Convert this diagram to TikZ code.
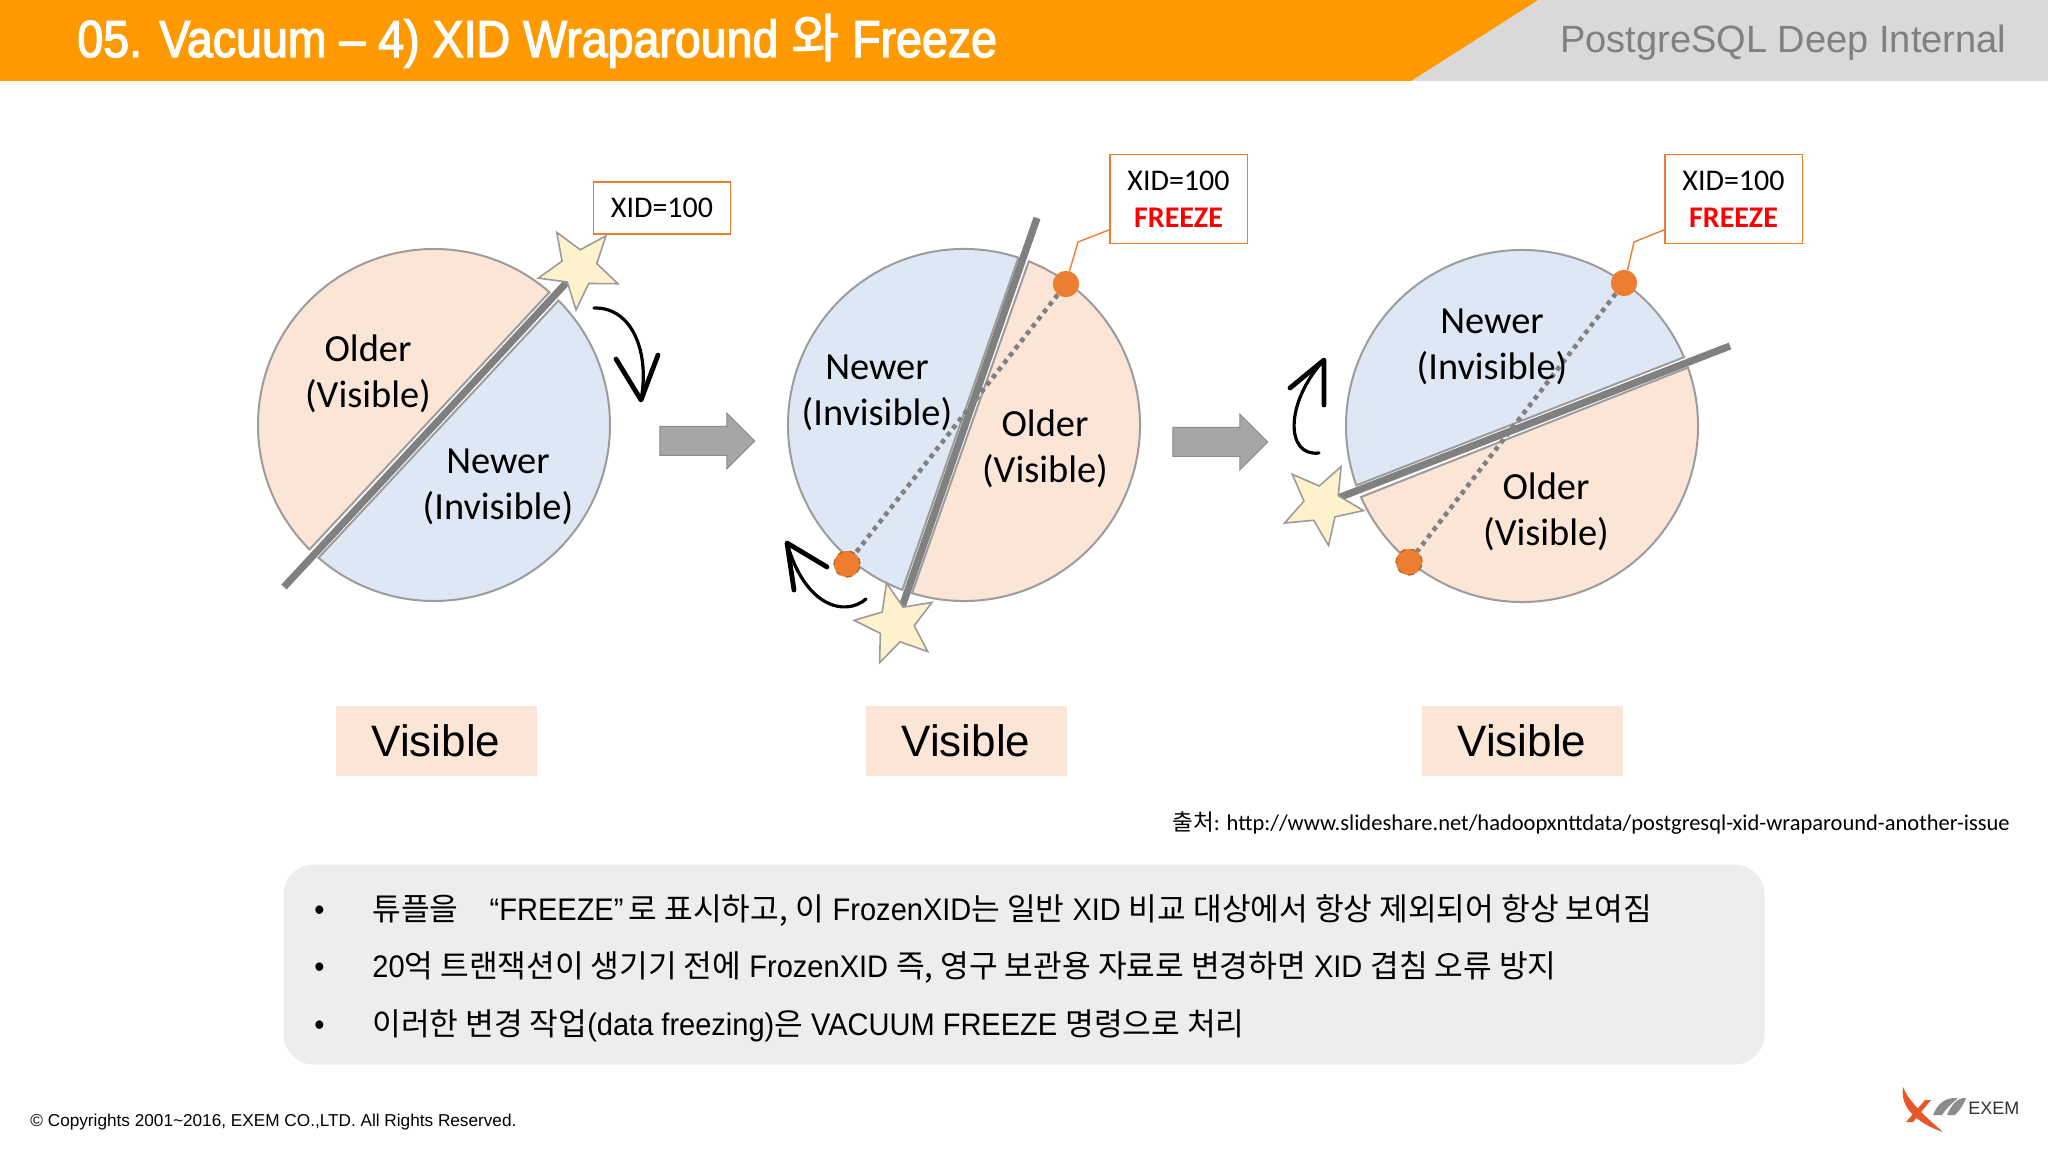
\documentclass[tikz,border=0pt]{standalone}
\usepackage{fontspec}
\usepackage{xcolor}
\usetikzlibrary{arrows.meta,shapes.geometric,shapes.arrows}
\setmainfont{Carlito}
\newfontfamily\hdfont{Liberation Sans}
\newfontfamily\slimfont[FakeStretch=0.93]{Liberation Sans}
\newfontfamily\titlefont[FakeStretch=0.895,FakeBold=2.5]{Liberation Sans}
\newfontfamily\krfont{Noto Sans CJK KR}
\newfontfamily\krtitlefont[FakeBold=2]{Noto Sans CJK KR}
\newcommand{\kr}[1]{{\krfont #1}}
\definecolor{oldercol}{HTML}{FBE5D6}
\definecolor{newercol}{HTML}{DEE8F5}
\definecolor{edgecol}{HTML}{9C9C9C}
\definecolor{barcol}{HTML}{808080}
\definecolor{boxcol}{HTML}{ED7D31}
\definecolor{starcol}{HTML}{FFF2CC}
\definecolor{titlecol}{HTML}{FF9900}
\definecolor{panelcol}{HTML}{EDECEF}
\definecolor{logocol}{HTML}{E8562A}

\begin{document}
\begin{tikzpicture}[
  x=0.5pt, y=0.5pt,
  halfdisc/.style={draw=edgecol, line width=1pt},
  divider/.style={draw=barcol, line width=3.6pt},
  dotline/.style={draw=barcol, line width=2.3pt, dash pattern=on 2.3pt off 2.3pt},
  markstar/.style={star, star points=5, star point ratio=2.3, draw=edgecol, fill=starcol, line width=0.8pt, inner sep=0pt, minimum size=42pt},
  markdot/.style={circle, fill=boxcol, inner sep=0pt, minimum size=13pt},
  xidbox/.style={draw=boxcol, fill=white, line width=0.7pt, inner sep=0pt, align=center, minimum width=68.7pt, font=\fontsize{15}{18.5}\selectfont},
  leader/.style={draw=boxcol, line width=0.7pt},
  zonelabel/.style={align=center, inner sep=0pt, font=\fontsize{19.2}{23}\selectfont},
  turn/.style={line width=1.6pt, line cap=round},
  turnhead/.style={line width=2.4pt, line cap=round, line join=round},
  stepblock/.style={single arrow, single arrow head extend=6.75pt, minimum height=47.5pt, inner xsep=0pt, inner ysep=7pt, fill=black!35, draw=black!45, line width=0.5pt},
  visiblebox/.style={fill=oldercol, minimum width=100.5pt, minimum height=35pt, inner sep=0pt, font=\hdfont\fontsize{22}{26}\selectfont},
  bulletline/.style={anchor=base west, inner sep=0pt, font=\slimfont\fontsize{15.6}{18}\selectfont}
]
\useasboundingbox (0,0) rectangle (2048,1152);
\fill[white] (0,0) rectangle (2048,1152);

\fill[black!15] (1400,1071) rectangle (2048,1152);
\fill[titlecol] (0,1071) -- (1411,1071) -- (1538,1152) -- (0,1152) -- cycle;
\node[anchor=base west, inner sep=0pt, text=white, font=\titlefont\fontsize{26}{28}\selectfont] (title) at (77,1095) {05. Vacuum – 4) XID Wraparound {\krtitlefont 와} Freeze};
\node[anchor=base west, inner sep=0pt, text=black!50, font=\hdfont\fontsize{19}{22}\selectfont] (subject) at (1560,1099) {PostgreSQL Deep Internal};

\coordinate (c1) at (434,727);
\coordinate (c2) at (964,727);
\coordinate (c3) at (1522,726);

\foreach \c/\a/\b/\col in {c1/49/225/oldercol, c1/229/405/newercol, c2/72/249.5/newercol, c2/252.8/428.4/oldercol, c3/23/199.7/newercol, c3/203.8/379.4/oldercol}{
  \draw[halfdisc, fill=\col] (\c) ++(\a:88pt) arc[start angle=\a, end angle=\b, radius=88pt] -- cycle;
}

\node[markdot] (dot2a) at (1066,868) {};
\node[markdot] (dot2b) at (847,588) {};
\node[markdot] (dot3a) at (1624,869) {};
\node[markdot] (dot3b) at (1409,590) {};
\draw[dotline] (dot2a) -- (dot2b);
\draw[dotline] (dot3a) -- (dot3b);

\coordinate (bar1a) at (284,565);
\coordinate (bar1b) at (567,870);
\coordinate (bar2a) at (1037,934);
\coordinate (bar2b) at (902,545);
\coordinate (bar3a) at (1338,654);
\coordinate (bar3b) at (1730,806);
\foreach \a/\b in {bar1a/bar1b,bar2a/bar2b,bar3a/bar3b}{\draw[divider] (\a) -- (\b);}

\node[markdot] at (dot2a) {};
\node[markdot, draw=boxcol!80!black, dashed, line width=0.7pt] at (dot2b) {};
\node[markdot] at (dot3a) {};
\node[markdot, draw=boxcol!80!black, dashed, line width=0.7pt] at (dot3b) {};

\node[markstar, shape border rotate=32] (star1) at (579,884) {};
\node[markstar, shape border rotate=13] (star2) at (896,528) {};
\node[markstar, shape border rotate=-27] (star3) at (1322,648) {};

\node[xidbox, minimum height=26pt] (xid1) at (662,944) {XID=100};
\node[xidbox, minimum height=44.3pt] (xid2) at (1178.5,953) {XID=100\\\textcolor{red}{\textbf{FREEZE}}};
\node[xidbox, minimum height=44.3pt] (xid3) at (1733.5,953) {XID=100\\\textcolor{red}{\textbf{FREEZE}}};

\coordinate (bend2) at (1078,910);
\coordinate (bend3) at (1634,910);
\draw[leader] (xid2.204) -- (bend2) -- (dot2a.75);
\draw[leader] (xid3.204) -- (bend3) -- (dot3a.75);

\node[zonelabel] (older1) at (368,778) {Older\\(Visible)};
\node[zonelabel] (newer1) at (498,665) {Newer\\(Invisible)};
\node[zonelabel] (newer2) at (877,759) {Newer\\(Invisible)};
\node[zonelabel] (older2) at (1045,703) {Older\\(Visible)};
\node[zonelabel] (newer3) at (1492,805) {Newer\\(Invisible)};
\node[zonelabel] (older3) at (1546,640) {Older\\(Visible)};

\coordinate (turn1a) at (594,844);
\coordinate (turn1b) at (641,752);
\coordinate (turn2a) at (866,553);
\coordinate (turn2b) at (787,609);
\coordinate (turn3a) at (1319,699);
\coordinate (turn3b) at (1324,792);
\draw[turn] (turn1a) .. controls (632,845) and (650,800) .. (turn1b);
\draw[turn] (turn2a) .. controls (845,535) and (805,545) .. (turn2b);
\draw[turn] (turn3a) .. controls (1285,695) and (1285,750) .. (turn3b);
\draw[turnhead] (616,793) -- (turn1b) -- (658,797);
\draw[turnhead] (827,585) -- (turn2b) -- (794,562);
\draw[turnhead] (1290,764) -- (turn3b) -- (1324,747);

\node[stepblock] (step1) at (700,711) {};
\node[stepblock] (step2) at (1213,710) {};

\node[visiblebox] (vis1) at (436,411) {Visible};
\node[visiblebox] (vis2) at (966,411) {Visible};
\node[visiblebox] (vis3) at (1522,411) {Visible};

\node[anchor=west, inner sep=0pt, font=\fontsize{11.25}{13}\selectfont] (source) at (1172,329) {\kr{출처}: http://www.slideshare.net/hadoopxnttdata/postgresql-xid-wraparound-another-issue};

\node[fill=panelcol, rounded corners=15pt, minimum width=740.5pt, minimum height=100pt, inner sep=0pt] (panel) at (1024,187.5) {};

\foreach \i/\y/\txt in {
  1/232/{\kr{튜플을}\quad “FREEZE”\,\kr{로 표시하고,} \kr{이} FrozenXID\kr{는 일반} XID \kr{비교 대상에서 항상 제외되어 항상 보여짐}},
  2/175/{20\kr{억 트랜잭션이 생기기 전에} FrozenXID \kr{즉, 영구 보관용 자료로 변경하면} XID \kr{겹침 오류 방지}},
  3/117/{\kr{이러한 변경 작업}(data freezing)\kr{은} VACUUM FREEZE \kr{명령으로 처리}}}{
  \node[bulletline] (dot\i) at (314,\y) {•};
  \node[bulletline] (item\i) at (372,\y) {\txt};
}

\node[anchor=base west, inner sep=0pt, font=\hdfont\fontsize{8.6}{11}\selectfont] (copy) at (30,26) {© Copyrights 2001\textasciitilde 2016, EXEM CO.,LTD. All Rights Reserved.};

\fill[logocol] (1903,65) .. controls (1908,52) and (1922,38) .. (1943,20) .. controls (1925,26) and (1899,40) .. (1903,65) -- cycle;
\fill[logocol] (1906,30) -- (1913,30) -- (1931,52) -- (1925,52) -- cycle;
\fill[black!45] (1933,37) .. controls (1937,47) and (1944,55) .. (1958,54) .. controls (1954,50) and (1948,46) .. (1942,37) -- cycle;
\fill[black!45] (1947,37) .. controls (1951,47) and (1958,55) .. (1966,54) .. controls (1964,48) and (1960,42) .. (1955,37) -- cycle;
\node[anchor=base west, inner sep=0pt, text=black!80, font=\hdfont\fontsize{9}{11}\selectfont] (logotext) at (1968,38) {EXEM};
\end{tikzpicture}
\end{document}
